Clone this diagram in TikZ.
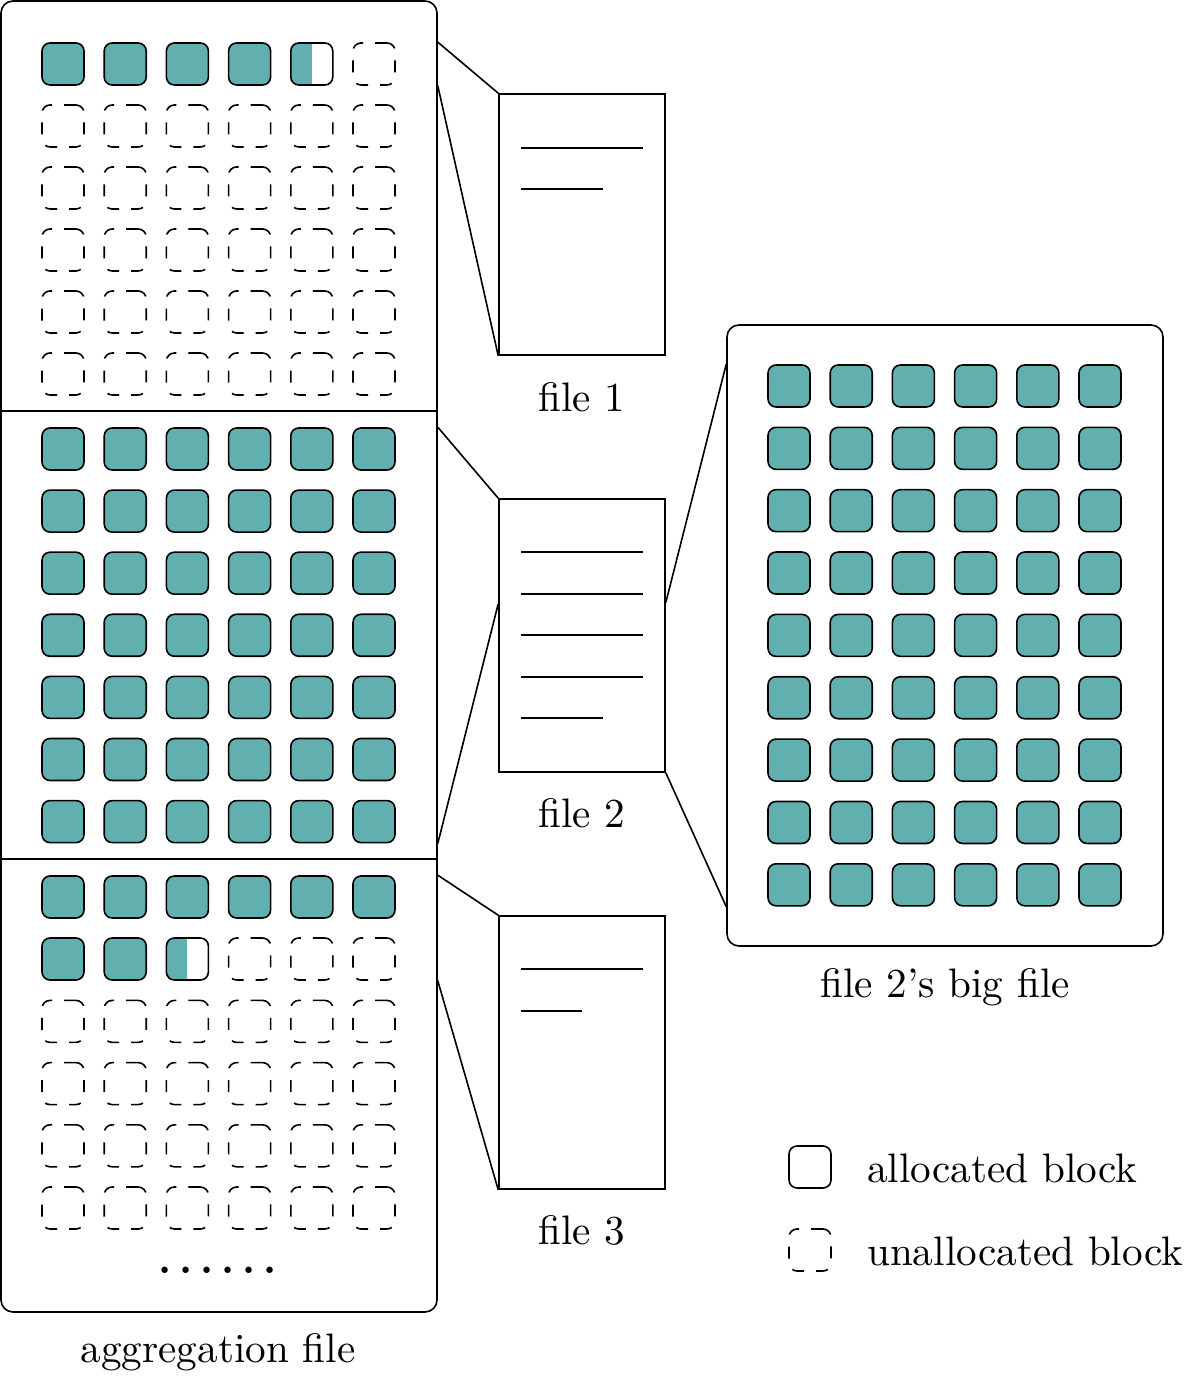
\documentclass[tikz,border=0pt]{standalone}
\usetikzlibrary{calc}
\definecolor{BlockTeal}{HTML}{62AFAF}
\tikzset{
  blockfull/.style={draw, fill=BlockTeal, rounded corners=2pt, minimum size=10.5pt, inner sep=0pt},
  blockfree/.style={draw, dashed, rounded corners=2pt, minimum size=10.5pt, inner sep=0pt},
  blockkey/.style={draw, rounded corners=2pt, minimum size=10.5pt, inner sep=0pt},
  blockhalf/.style={blockkey,
    preaction={path picture={\fill[BlockTeal, sharp corners] (path picture bounding box.south west) rectangle (path picture bounding box.north);}}},
  container/.style={draw, rounded corners=3pt, minimum width=109pt, inner sep=0pt},
  filepage/.style={draw, minimum width=41.5pt, inner sep=0pt},
  pageline/.style={draw},
  lab/.style={font=\fontsize{10.3pt}{12pt}\selectfont},
}

\begin{document}
\begin{tikzpicture}[x=0.25pt, y=-0.25pt]
  \useasboundingbox (0,0) rectangle (1199,1387);
  % aggregation file
  \node[container, minimum height=327.75pt] (agg) at (219,656.5) {};
  \draw (1,411) -- (437,411);
  \draw (1,859) -- (437,859);
  % top part: file 1
  \foreach \c in {1,...,4}
    \node[blockfull] (t1\c) at ({63+62.2*(\c-1)},64) {};
  \node[blockhalf] (t15) at (311.8,64) {};
  \node[blockfree] (t16) at (374,64) {};
  \foreach \r in {2,...,6}
    \foreach \c in {1,...,6}
      \node[blockfree] (t\r\c) at ({63+62.2*(\c-1)},{64+62*(\r-1)}) {};
  % middle part: file 2
  \foreach \r in {1,...,7}
    \foreach \c in {1,...,6}
      \node[blockfull] (m\r\c) at ({63+62.2*(\c-1)},{449+62.1*(\r-1)}) {};
  % bottom part: file 3
  \foreach \c in {1,...,6}
    \node[blockfull] (b1\c) at ({63+62.2*(\c-1)},897) {};
  \node[blockfull] (b21) at (63,959) {};
  \node[blockfull] (b22) at (125.2,959) {};
  \node[blockhalf] (b23) at (187.4,959) {};
  \foreach \c in {4,5,6}
    \node[blockfree] (b2\c) at ({63+62.2*(\c-1)},959) {};
  \foreach \r in {3,...,6}
    \foreach \c in {1,...,6}
      \node[blockfree] (b\r\c) at ({63+62.2*(\c-1)},{897+62.2*(\r-1)}) {};
  \node[lab] (dots) at (218,1270) {\bfseries .\hspace{1.96pt}.\hspace{1.96pt}.\hspace{1.96pt}.\hspace{1.96pt}.\hspace{1.96pt}.};
  \node[lab] (agglab) at (218,1352) {aggregation file};

  % small files
  \node[filepage, minimum height=65.25pt] (file1) at (582,224.5) {};
  \node[filepage, minimum height=68.25pt] (file2) at (582,635.5) {};
  \node[filepage, minimum height=68.25pt] (file3) at (582,1052.5) {};
  \draw[pageline] (521,148) -- (643,148);
  \draw[pageline] (521,189) -- (603,189);
  \foreach \y in {552,594,635,677}
    \draw[pageline] (521,\y) -- (643,\y);
  \draw[pageline] (521,718) -- (603,718);
  \draw[pageline] (521,969) -- (643,969);
  \draw[pageline] (521,1011) -- (582,1011);
  \node[lab] (file1lab) at (582,397) {file 1};
  \node[lab] (file2lab) at (582,813) {file 2};
  \node[lab] (file3lab) at (582,1230) {file 3};

  \draw (t11.north -| agg.east) -- (file1.north west);
  \draw (t11.south -| agg.east) -- (file1.south west);
  \draw (m11.north -| agg.east) -- (file2.north west);
  \draw (m71.south -| agg.east) -- ($(file2.north west)!0.385!(file2.south west)$);
  \draw (b11.north -| agg.east) -- (file3.north west);
  \draw (b21.south -| agg.east) -- (file3.south west);

  % big file behind file 2
  \node[container, minimum height=155.25pt] (big) at (945,635.5) {};
  \foreach \r in {1,...,9}
    \foreach \c in {1,...,6}
      \node[blockfull] (g\r\c) at ({789+62.2*(\c-1)},{386+62.35*(\r-1)}) {};
  \node[lab] (biglab) at (945,987) {file 2's big file};
  \draw ($(file2.north east)!0.38!(file2.south east)$) -- (g11.north -| big.west);
  \draw (file2.south east) -- (g91.south -| big.west);

  % legend
  \node[blockkey] (keyused) at (810,1167) {};
  \node[blockfree] (keyfree) at (810,1250) {};
  \node[lab, anchor=west] (keyusedlab) at (853,1168) {allocated block};
  \node[lab, anchor=west] (keyfreelab) at (853,1251) {unallocated block};
\end{tikzpicture}
\end{document}
